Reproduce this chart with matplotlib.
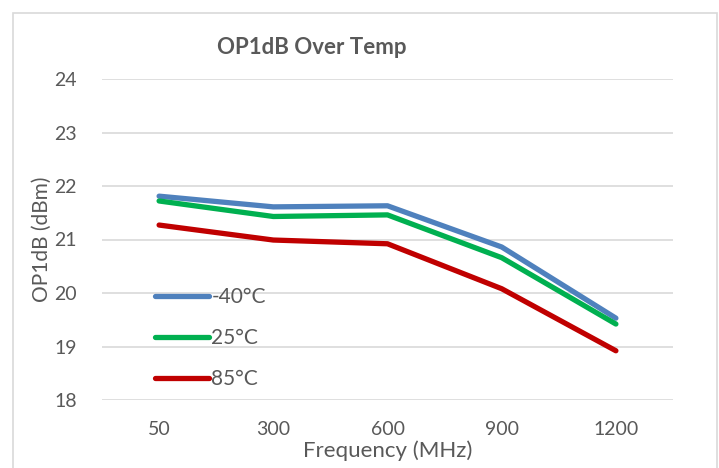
import matplotlib.pyplot as plt
from matplotlib.patches import Rectangle

plt.rcParams['font.family'] = ['Lato', 'DejaVu Sans']

freq = ['50', '300', '600', '900', '1200']
temps = ['-40°C', '25°C', '85°C']
op_m40 = [21.81, 21.61, 21.63, 20.86, 19.53]
op_25 = [21.72, 21.43, 21.46, 20.66, 19.42]
op_85 = [21.27, 20.99, 20.92, 20.08, 18.92]
colors = ['#4f81bd', '#00b050', '#c00000']

fig = plt.figure(figsize=(7.19, 4.68), dpi=100)
ax = fig.add_axes([102 / 719, 1 - 400 / 468, 571 / 719, 321 / 468])

x = range(len(freq))
for vals, lab, c in zip([op_m40, op_25, op_85], temps, colors):
    ax.plot(x, vals, color=c, lw=3.8, solid_capstyle='round',
            solid_joinstyle='round', label=lab)

ax.set_xlim(-0.5, len(freq) - 0.5)
ax.set_ylim(18, 24)
ax.set_yticks(range(18, 25))
ax.set_xticks(list(x))
ax.set_xticklabels(freq)
ax.grid(axis='y', color='#d9d9d9', lw=1.2)
ax.set_axisbelow(True)
for s in ax.spines.values():
    s.set_visible(False)
ax.tick_params(length=0, labelsize=14, colors='#595959')
ax.tick_params(axis='y', pad=18)
ax.tick_params(axis='x', pad=15)

ax.set_xlabel('Frequency (MHz)', fontsize=16, color='#595959', labelpad=2)
ax.set_ylabel('OP1dB (dBm)', fontsize=15, color='#595959', labelpad=2)
fig.text(312 / 719, 1 - 47 / 468, 'OP1dB Over Temp', fontsize=16,
         fontweight='bold', color='#595959', ha='center', va='center')

ax.legend(loc='upper left', bbox_to_anchor=(0.06, 0.41), frameon=False,
          fontsize=15, labelcolor='#595959', handlelength=2.6,
          handletextpad=0.1, labelspacing=1.0)

fig.patches.append(Rectangle((13 / 719, -0.05), 704 / 719, 1.05 - 13 / 468,
                             transform=fig.transFigure, fill=False,
                             edgecolor='#d9d9d9', lw=1.2))

fig.savefig('out.png', dpi=100)
